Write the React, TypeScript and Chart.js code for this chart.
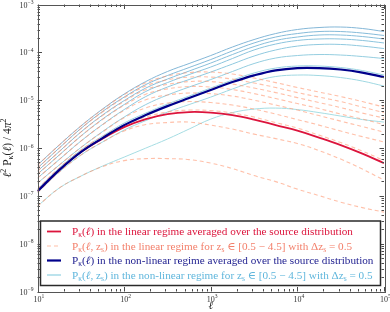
import { useEffect, useRef } from 'react';
import { Chart, registerables } from 'chart.js';

Chart.register(...registerables);

// multipole l (log-spaced reading grid)
const ELL = [10, 17.78, 31.62, 56.23, 100, 177.8, 316.2, 562.3, 1000, 1778, 3162, 5623, 10000, 17783, 31623, 56234, 100000];

// averaged over the source distribution
const LIN_AVG = [1.25e-7, 3.45e-7, 8.2e-7, 1.57e-6, 2.74e-6, 4.02e-6, 5.12e-6, 5.64e-6, 5.5e-6, 4.88e-6, 3.93e-6, 3.01e-6, 2.31e-6, 1.65e-6, 1.15e-6, 7.63e-7, 4.83e-7];
const NL_AVG = [1.25e-7, 3.45e-7, 8.2e-7, 1.61e-6, 3.01e-6, 4.88e-6, 7.5e-6, 1.11e-5, 1.63e-5, 2.39e-5, 3.3e-5, 4.2e-5, 4.69e-5, 4.69e-5, 4.37e-5, 3.78e-5, 3.04e-5];

// non-linear, single source redshift
const NL_Z05 = [6.09e-8, 1.45e-7, 2.58e-7, 4.18e-7, 6.45e-7, 9.95e-7, 1.54e-6, 2.49e-6, 4.02e-6, 5.5e-6, 6.51e-6, 6.83e-6, 6.36e-6, 5.5e-6, 4.65e-6, 3.93e-6, 3.48e-6];
const NL_Z10 = [1.17e-7, 3.13e-7, 7.1e-7, 1.33e-6, 2.37e-6, 3.74e-6, 5.64e-6, 8.09e-6, 1.16e-5, 1.71e-5, 2.45e-5, 3.12e-5, 3.35e-5, 3.27e-5, 2.97e-5, 2.51e-5, 1.97e-5];
const NL_Z15 = [1.38e-7, 3.8e-7, 9.04e-7, 1.77e-6, 3.32e-6, 5.37e-6, 8.29e-6, 1.22e-5, 1.79e-5, 2.63e-5, 3.7e-5, 4.69e-5, 5.17e-5, 5.17e-5, 4.81e-5, 4.16e-5, 3.35e-5];
const NL_Z20 = [1.84e-7, 4.39e-7, 1.02e-6, 2.2e-6, 4.43e-6, 8.09e-6, 1.28e-5, 1.88e-5, 2.7e-5, 3.97e-5, 5.83e-5, 7.6e-5, 8.57e-5, 8.99e-5, 8.78e-5, 8.17e-5, 7.42e-5];
const NL_Z25 = [2.35e-7, 5.72e-7, 1.39e-6, 3.09e-6, 6.35e-6, 1.19e-5, 1.88e-5, 2.7e-5, 3.87e-5, 5.69e-5, 8.37e-5, 1.12e-4, 1.35e-4, 1.46e-4, 1.46e-4, 1.35e-4, 1.2e-4];
const NL_Z30 = [2.84e-7, 7.1e-7, 1.77e-6, 4.02e-6, 8.09e-6, 1.52e-5, 2.33e-5, 3.43e-5, 4.93e-5, 7.42e-5, 1.12e-4, 1.49e-4, 1.77e-4, 1.9e-4, 1.9e-4, 1.77e-4, 1.57e-4];
const NL_Z35 = [3.29e-7, 8.41e-7, 2.15e-6, 4.88e-6, 9.77e-6, 1.79e-5, 2.76e-5, 4.06e-5, 5.97e-5, 8.99e-5, 1.32e-4, 1.77e-4, 2.09e-4, 2.3e-4, 2.3e-4, 2.14e-4, 1.9e-4];
const NL_Z40 = [3.8e-7, 9.95e-7, 2.55e-6, 5.78e-6, 1.16e-5, 2.12e-5, 3.27e-5, 4.81e-5, 7.07e-5, 1.07e-4, 1.57e-4, 2.09e-4, 2.47e-4, 2.72e-4, 2.72e-4, 2.53e-4, 2.25e-4];
const NL_Z45 = [4.39e-7, 1.15e-6, 2.87e-6, 6.51e-6, 1.34e-5, 2.45e-5, 3.97e-5, 5.83e-5, 8.57e-5, 1.29e-4, 1.85e-4, 2.47e-4, 3.0e-4, 3.3e-4, 3.38e-4, 3.15e-4, 2.72e-4];

// linear, single source redshift
const LIN_Z05 = [6.09e-8, 1.45e-7, 2.58e-7, 4.08e-7, 5.45e-7, 6.0e-7, 6.0e-7, 5.72e-7, 4.83e-7, 3.71e-7, 2.65e-7, 1.98e-7, 1.38e-7, 1.01e-7, 7.38e-8, 5.66e-8, 4.56e-8];
const LIN_Z10 = [1.17e-7, 3.13e-7, 7.1e-7, 1.33e-6, 2.26e-6, 3.09e-6, 3.4e-6, 3.48e-6, 3.01e-6, 2.49e-6, 1.95e-6, 1.57e-6, 1.24e-6, 8.82e-7, 5.86e-7, 3.62e-7, 2.13e-7];
const LIN_Z15 = [1.38e-7, 3.8e-7, 9.04e-7, 1.73e-6, 3.01e-6, 4.43e-6, 5.64e-6, 6.21e-6, 6.06e-6, 5.4e-6, 4.43e-6, 3.4e-6, 2.61e-6, 1.86e-6, 1.3e-6, 8.61e-7, 5.45e-7];
const LIN_Z20 = [1.84e-7, 4.39e-7, 1.02e-6, 2.15e-6, 4.3e-6, 6.9e-6, 8.7e-6, 9.35e-6, 8.91e-6, 7.9e-6, 6.51e-6, 5.12e-6, 3.93e-6, 3.01e-6, 2.26e-6, 1.73e-6, 1.33e-6];
const LIN_Z25 = [2.35e-7, 5.72e-7, 1.39e-6, 3.05e-6, 6.1e-6, 1.02e-5, 1.28e-5, 1.41e-5, 1.37e-5, 1.22e-5, 1.0e-5, 7.9e-6, 6.21e-6, 4.76e-6, 3.65e-6, 2.8e-6, 2.15e-6];
const LIN_Z30 = [2.84e-7, 7.1e-7, 1.77e-6, 3.93e-6, 7.8e-6, 1.33e-5, 1.72e-5, 1.93e-5, 1.88e-5, 1.67e-5, 1.37e-5, 1.08e-5, 8.49e-6, 6.67e-6, 5.12e-6, 4.02e-6, 3.09e-6];
const LIN_Z35 = [3.29e-7, 8.41e-7, 2.15e-6, 4.76e-6, 9.4e-6, 1.66e-5, 2.14e-5, 2.45e-5, 2.45e-5, 2.17e-5, 1.79e-5, 1.44e-5, 1.13e-5, 8.91e-6, 7.0e-6, 5.37e-6, 4.22e-6];
const LIN_Z40 = [3.8e-7, 9.95e-7, 2.55e-6, 5.64e-6, 1.12e-5, 1.98e-5, 2.66e-5, 3.04e-5, 3.04e-5, 2.76e-5, 2.28e-5, 1.84e-5, 1.44e-5, 1.16e-5, 9.35e-6, 7.17e-6, 5.5e-6];
const LIN_Z45 = [4.39e-7, 1.15e-6, 2.87e-6, 6.35e-6, 1.3e-5, 2.3e-5, 3.2e-5, 3.78e-5, 3.87e-5, 3.52e-5, 2.9e-5, 2.33e-5, 1.84e-5, 1.48e-5, 1.19e-5, 9.35e-6, 7.17e-6];

const NL_BY_Z = [NL_Z05, NL_Z10, NL_Z15, NL_Z20, NL_Z25, NL_Z30, NL_Z35, NL_Z40, NL_Z45];
const LIN_BY_Z = [LIN_Z05, LIN_Z10, LIN_Z15, LIN_Z20, LIN_Z25, LIN_Z30, LIN_Z35, LIN_Z40, LIN_Z45];

// axis ticks
const X_TICKS = [10, 100, 1000, 10000, 100000];
const X_TICK_EXP = ['1', '2', '3', '4', '5'];
const Y_TICKS = [1e-9, 1e-8, 1e-7, 1e-6, 1e-5, 1e-4, 1e-3];
const Y_TICK_EXP = ['\u22129', '\u22128', '\u22127', '\u22126', '\u22125', '\u22124', '\u22123'];

// styles
const NL_COLORS = ['#a6dde3', '#a0d8e2', '#9ad3e1', '#95cee0', '#90c9df', '#8cc4dd', '#89bfdb', '#86bbd9', '#84b7d7'];
const LIN_COLOR = 'rgba(255,150,112,0.6)';
const RED = '#dc143c';
const NAVY = '#00008b';
const FAM = '"Liberation Serif", "DejaVu Serif", serif';

type Seg = { t: string; s?: number; dy?: number; it?: boolean };

function drawRich(ctx: CanvasRenderingContext2D, segs: Seg[], x: number, y: number, base: number, align: string, color: string) {
  const fontOf = (sg: Seg) => `${sg.it ? 'italic ' : ''}${(sg.s ?? 1) * base}px ${FAM}`;
  let w = 0;
  for (const sg of segs) { ctx.font = fontOf(sg); w += ctx.measureText(sg.t).width; }
  let cx = align === 'left' ? x : align === 'center' ? x - w / 2 : x - w;
  ctx.fillStyle = color;
  ctx.textAlign = 'left';
  ctx.textBaseline = 'alphabetic';
  for (const sg of segs) {
    ctx.font = fontOf(sg);
    ctx.fillText(sg.t, cx, y + (sg.dy ?? 0) * base);
    cx += ctx.measureText(sg.t).width;
  }
  return w;
}

const SUB = 0.68;
const LEGEND_ITEMS: { text: string; line: string; width: number; dash: number[]; segs: Seg[] }[] = [
  { text: '#dc143c', line: RED, width: 1.8, dash: [], segs: [
    { t: 'P' }, { t: '\u03ba', s: SUB, dy: 0.22 }, { t: '(' }, { t: '\u2113', it: true }, { t: ') in the linear regime averaged over the source distribution' }] },
  { text: '#f37f6a', line: LIN_COLOR, width: 1.2, dash: [4, 3], segs: [
    { t: 'P' }, { t: '\u03ba', s: SUB, dy: 0.22 }, { t: '(' }, { t: '\u2113', it: true }, { t: ', z' }, { t: 's', s: SUB, dy: 0.22 },
    { t: ') in the linear regime for z' }, { t: 's', s: SUB, dy: 0.22 }, { t: ' \u2208 [0.5 \u2212 4.5] with \u0394z' }, { t: 's', s: SUB, dy: 0.22 }, { t: ' = 0.5' }] },
  { text: '#1c1c8e', line: NAVY, width: 2.2, dash: [], segs: [
    { t: 'P' }, { t: '\u03ba', s: SUB, dy: 0.22 }, { t: '(' }, { t: '\u2113', it: true }, { t: ') in the non-linear regime averaged over the source distribution' }] },
  { text: '#5fb6dc', line: '#8fd0e2', width: 1.2, dash: [], segs: [
    { t: 'P' }, { t: '\u03ba', s: SUB, dy: 0.22 }, { t: '(' }, { t: '\u2113', it: true }, { t: ', z' }, { t: 's', s: SUB, dy: 0.22 },
    { t: ') in the non-linear regime for z' }, { t: 's', s: SUB, dy: 0.22 }, { t: ' \u2208 [0.5 \u2212 4.5] with \u0394z' }, { t: 's', s: SUB, dy: 0.22 }, { t: ' = 0.5' }] },
];

const decor = {
  id: 'decor',
  afterDatasetsDraw(chart: any) {
    const { ctx, chartArea: a, scales } = chart;
    const xs = scales.x;
    const ys = scales.y;
    ctx.save();
    ctx.strokeStyle = '#4a4a4a';
    ctx.lineWidth = 1;
    const seg = (x1: number, y1: number, x2: number, y2: number) => {
      ctx.beginPath(); ctx.moveTo(x1, y1); ctx.lineTo(x2, y2); ctx.stroke();
    };
    // ticks (inward, all four sides)
    for (let d = 1; d <= 5; d++) {
      for (let m = 1; m <= 9; m++) {
        if (d === 5 && m > 1) break;
        const px = Math.round(xs.getPixelForValue(m * Math.pow(10, d))) + 0.5;
        const len = m === 1 ? 4.5 : 2.5;
        seg(px, a.bottom, px, a.bottom - len);
        seg(px, a.top, px, a.top + len);
      }
    }
    for (let d = -9; d <= -3; d++) {
      for (let m = 1; m <= 9; m++) {
        if (d === -3 && m > 1) break;
        const py = Math.round(ys.getPixelForValue(m * Math.pow(10, d))) + 0.5;
        const len = m === 1 ? 4.5 : 2.5;
        seg(a.left, py, a.left + len, py);
        seg(a.right, py, a.right - len, py);
      }
    }
    // frame
    ctx.strokeStyle = '#555';
    ctx.strokeRect(Math.round(a.left) + 0.5, Math.round(a.top) + 0.5, Math.round(a.right - a.left), Math.round(a.bottom - a.top));

    // tick labels
    Y_TICKS.forEach((v, i) => {
      const py = ys.getPixelForValue(v);
      drawRich(ctx, [{ t: '10' }, { t: Y_TICK_EXP[i], s: 0.7, dy: -0.42 }], a.left - 4, py + 3, 8, 'right', '#333');
    });
    X_TICKS.forEach((v, i) => {
      const px = xs.getPixelForValue(v);
      drawRich(ctx, [{ t: '10' }, { t: X_TICK_EXP[i], s: 0.7, dy: -0.42 }], px + 1.5, a.bottom + 10, 8, 'center', '#333');
    });

    // axis titles
    drawRich(ctx, [{ t: '\u2113', it: true }], (a.left + a.right) / 2, 309, 11, 'center', '#222');
    ctx.save();
    ctx.translate(10.5, (a.top + a.bottom) / 2);
    ctx.rotate(-Math.PI / 2);
    drawRich(ctx, [
      { t: '\u2113', it: true }, { t: '2', s: 0.7, dy: -0.42 }, { t: ' P' }, { t: '\u03ba', s: SUB, dy: 0.22 },
      { t: '(' }, { t: '\u2113', it: true }, { t: ') / 4' }, { t: '\u03c0', it: true }, { t: '2', s: 0.7, dy: -0.42 },
    ], 0, 0, 11.5, 'center', '#222');
    ctx.restore();

    // legend box
    const lx = 40.5, ly = 221, lw = 340, lh = 64.5;
    ctx.fillStyle = '#fff';
    ctx.fillRect(lx, ly, lw, lh);
    ctx.strokeStyle = '#2a2a2a';
    ctx.lineWidth = 1.5;
    ctx.strokeRect(lx, ly, lw, lh);
    const rowY = [231.5, 246, 260.5, 275];
    LEGEND_ITEMS.forEach((it, i) => {
      const y = rowY[i];
      ctx.strokeStyle = it.line;
      ctx.lineWidth = it.width;
      ctx.setLineDash(it.dash);
      seg(47, y, 61, y);
      ctx.setLineDash([]);
      drawRich(ctx, it.segs, 72, y + 3.5, 11.2, 'left', it.text);
    });
    ctx.restore();
  },
};

export default function App() {
  const ref = useRef<HTMLCanvasElement | null>(null);
  useEffect(() => {
    if (!ref.current) return;
    const pts = (arr: number[]) => ELL.map((x, i) => ({ x, y: arr[i] }));
    const datasets: any[] = [];
    NL_BY_Z.forEach((arr, i) => datasets.push({
      data: pts(arr), borderColor: NL_COLORS[i], borderWidth: 1, order: 4,
    }));
    LIN_BY_Z.forEach((arr) => datasets.push({
      data: pts(arr), borderColor: LIN_COLOR, borderWidth: 1.1, borderDash: [4, 3], order: 3,
    }));
    datasets.push({ data: pts(LIN_AVG), borderColor: RED, borderWidth: 1.8, order: 2 });
    datasets.push({ data: pts(NL_AVG), borderColor: NAVY, borderWidth: 2.2, order: 1 });

    const chart = new Chart(ref.current, {
      type: 'line',
      data: { datasets },
      options: {
        animation: false,
        responsive: false,
        devicePixelRatio: 1,
        events: [],
        layout: { padding: { left: 37.5, right: 6, top: 4.5, bottom: 20.5 } },
        elements: { point: { radius: 0 }, line: { tension: 0.4, fill: false } },
        scales: {
          x: { type: 'logarithmic', min: 10, max: 100000, display: false },
          y: { type: 'logarithmic', min: 1e-9, max: 1e-3, display: false },
        },
        plugins: { legend: { display: false }, tooltip: { enabled: false } },
      },
      plugins: [decor],
    } as any);
    return () => chart.destroy();
  }, []);
  return (
    <div style={{ position: 'fixed', left: 0, top: 0, width: 390, height: 312, background: '#fff' }}>
      <canvas ref={ref} width={390} height={312} style={{ display: 'block', width: 390, height: 312 }} />
    </div>
  );
}
